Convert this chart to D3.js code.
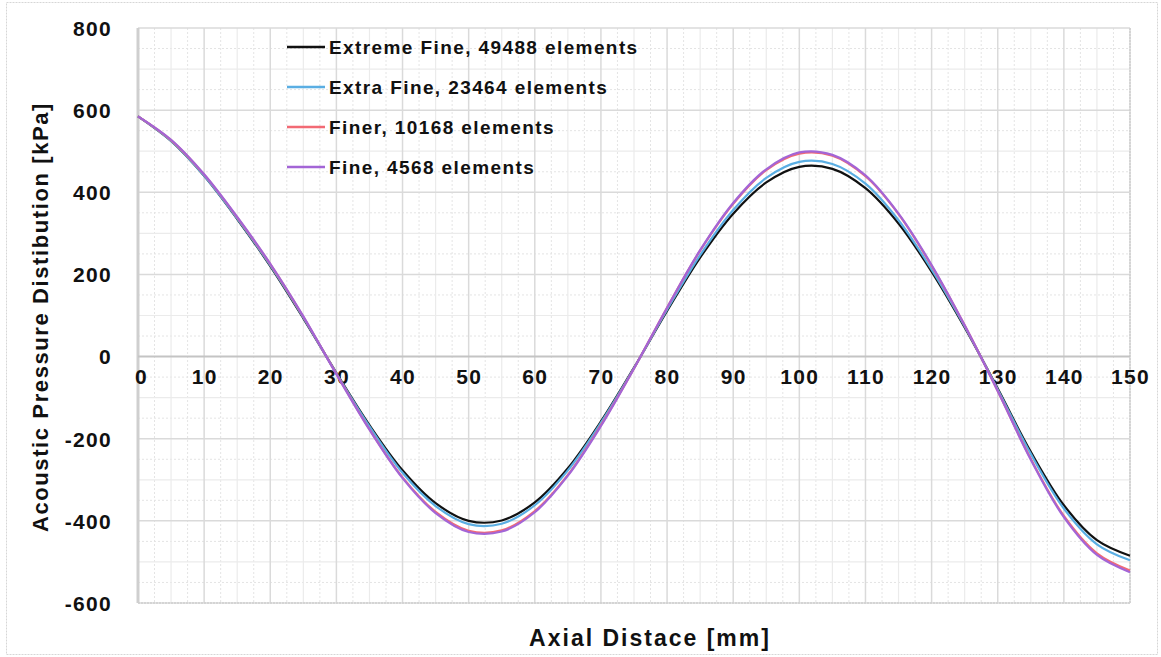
<!DOCTYPE html>
<html>
<head>
<meta charset="utf-8">
<script src="https://cdn.jsdelivr.net/npm/d3@7"></script>
<style>
  html, body { margin: 0; padding: 0; background: #fff; }
  svg { display: block; font-family: "Liberation Sans", Arial, sans-serif; }
</style>
</head>
<body>
<svg id="chart" width="1161" height="657"></svg>
<script>
// Axial distance samples [mm]
const axialMm = [0, 5, 10, 15, 20, 25, 30, 35, 40, 45, 50, 55, 60, 65, 70, 75,
                 80, 85, 90, 95, 100, 105, 110, 115, 120, 125, 130, 135, 140, 145, 150];

// Acoustic pressure [kPa] per mesh refinement
const extremeFine = [585, 525, 440, 335, 220, 93, -40, -167, -277, -357, -400, -399, -355, -272, -158, -27,
                     111, 241, 348, 424, 462, 457, 410, 324, 207, 71, -78, -232, -362, -447, -485];
const extraFine   = [585, 525, 440, 336, 222, 95, -41, -170, -283, -364, -408, -407, -362, -277, -161, -28,
                     114, 247, 357, 435, 474, 469, 421, 332, 212, 73, -80, -237, -370, -457, -496];
const finer       = [585, 527, 443, 339, 225, 97, -42, -177, -294, -378, -424, -423, -376, -288, -167, -29,
                     119, 258, 372, 454, 494, 489, 439, 347, 221, 76, -84, -249, -388, -479, -521];
const fine        = [585, 528, 444, 340, 226, 98, -43, -178, -296, -381, -427, -426, -379, -290, -169, -29,
                     119, 259, 374, 456, 497, 491, 441, 348, 223, 76, -84, -251, -391, -483, -525];

const seriesNames  = ["Extreme Fine, 49488 elements", "Extra Fine, 23464 elements",
                      "Finer, 10168 elements", "Fine, 4568 elements"];
const seriesColors = ["#111111", "#5aaee3", "#f26a74", "#a365d6"];
const seriesValues = [extremeFine, extraFine, finer, fine];

const xTicks = [0, 10, 20, 30, 40, 50, 60, 70, 80, 90, 100, 110, 120, 130, 140, 150];
const yTicks = [-600, -400, -200, 0, 200, 400, 600, 800];

const svg = d3.select("#chart");
const W = 1161, H = 657;
const plot = { left: 138, right: 1130, top: 28, bottom: 603 };
const FONT = "'Liberation Sans', Arial, sans-serif";
const fmt = d => String(d);   // plain hyphen for negatives

const x = d3.scaleLinear().domain([0, 150]).range([plot.left, plot.right]);
const y = d3.scaleLinear().domain([-600, 800]).range([plot.bottom, plot.top]);

// outer chart frame
svg.append("rect")
  .attr("x", 6.5).attr("y", 2.5).attr("width", W - 10).attr("height", H - 5)
  .attr("fill", "none").attr("stroke", "#d6d6d6").attr("stroke-width", 1)
  .attr("stroke-dasharray", "2,1");

const grid = svg.append("g");

// fine dotted grid
grid.selectAll(".xdot").data(d3.range(0, 150.01, 2.5).filter(v => v % 5 !== 0))
  .join("line")
  .attr("x1", d => x(d)).attr("x2", d => x(d))
  .attr("y1", plot.top).attr("y2", plot.bottom)
  .attr("stroke", "#e4e4e4").attr("stroke-width", 1).attr("stroke-dasharray", "2,2");
grid.selectAll(".ydot").data(d3.range(-600, 800.1, 50).filter(v => v % 100 !== 0))
  .join("line")
  .attr("x1", plot.left).attr("x2", plot.right)
  .attr("y1", d => y(d)).attr("y2", d => y(d))
  .attr("stroke", "#e4e4e4").attr("stroke-width", 1).attr("stroke-dasharray", "2,2");

// minor solid grid
grid.selectAll(".xmin").data(d3.range(5, 150, 10))
  .join("line")
  .attr("x1", d => x(d)).attr("x2", d => x(d))
  .attr("y1", plot.top).attr("y2", plot.bottom)
  .attr("stroke", "#ebebeb").attr("stroke-width", 1.2);
grid.selectAll(".ymin").data(d3.range(-500, 800, 200))
  .join("line")
  .attr("x1", plot.left).attr("x2", plot.right)
  .attr("y1", d => y(d)).attr("y2", d => y(d))
  .attr("stroke", "#ebebeb").attr("stroke-width", 1.2);

// major grid
grid.selectAll(".xmaj").data(xTicks.slice(1))
  .join("line")
  .attr("x1", d => x(d)).attr("x2", d => x(d))
  .attr("y1", plot.top).attr("y2", plot.bottom)
  .attr("stroke", "#dadada").attr("stroke-width", 1.5);
grid.selectAll(".ymaj").data(yTicks.filter(v => v !== 0))
  .join("line")
  .attr("x1", plot.left).attr("x2", plot.right)
  .attr("y1", d => y(d)).attr("y2", d => y(d))
  .attr("stroke", "#dadada").attr("stroke-width", 1.5);

// plot border: right and bottom dotted, left solid
grid.append("line")
  .attr("x1", plot.right).attr("x2", plot.right).attr("y1", plot.top).attr("y2", plot.bottom)
  .attr("stroke", "#d0d0d0").attr("stroke-width", 1.5).attr("stroke-dasharray", "2,1");
grid.append("line")
  .attr("x1", plot.left).attr("x2", plot.right).attr("y1", plot.bottom).attr("y2", plot.bottom)
  .attr("stroke", "#d0d0d0").attr("stroke-width", 1.5).attr("stroke-dasharray", "2,1");
grid.append("line")
  .attr("x1", plot.left).attr("x2", plot.left).attr("y1", plot.top).attr("y2", plot.bottom)
  .attr("stroke", "#cfcfcf").attr("stroke-width", 3);

// zero axis line
grid.append("line")
  .attr("x1", plot.left).attr("x2", plot.right).attr("y1", y(0)).attr("y2", y(0))
  .attr("stroke", "#c4c4c4").attr("stroke-width", 2);

// y axis labels
const yAxis = d3.axisLeft(y).tickValues(yTicks).tickSize(0).tickPadding(0).tickFormat(fmt);
const gy = svg.append("g").attr("transform", `translate(${plot.left - 26},0)`).call(yAxis);
gy.select(".domain").remove();
gy.selectAll("text")
  .attr("font-family", FONT)
  .attr("font-size", 21).attr("font-weight", "bold").attr("fill", "#111")
  .attr("letter-spacing", 1.3)
  .attr("dy", "0.35em");

// x axis labels sit just under the zero line
const xAxis = d3.axisBottom(x).tickValues(xTicks).tickSize(0).tickPadding(0).tickFormat(fmt);
const gx = svg.append("g").attr("transform", `translate(0,${y(0) + 20})`).call(xAxis);
gx.select(".domain").remove();
gx.selectAll("text")
  .attr("font-family", FONT)
  .attr("font-size", 21).attr("font-weight", "bold").attr("fill", "#111")
  .attr("letter-spacing", 1.3)
  .attr("dy", "0.35em").attr("dx", d => d === 0 ? 3 : 0);

// series lines
const line = d3.line()
  .x((d, i) => x(axialMm[i]))
  .y(d => y(d))
  .curve(d3.curveCatmullRom.alpha(0.5));

svg.append("g").selectAll("path").data(seriesValues)
  .join("path")
  .attr("d", d => line(d))
  .attr("fill", "none")
  .attr("stroke", (d, i) => seriesColors[i])
  .attr("stroke-width", 2.2)
  .attr("stroke-linejoin", "round");

// legend
const legend = svg.append("g").attr("transform", "translate(287,47)");
const rows = legend.selectAll("g").data(seriesNames).join("g")
  .attr("transform", (d, i) => `translate(0,${i * 40})`);
rows.append("line")
  .attr("x1", 0).attr("x2", 38).attr("y1", 0).attr("y2", 0)
  .attr("stroke", (d, i) => seriesColors[i]).attr("stroke-width", 2.5);
rows.append("text")
  .attr("x", 42).attr("y", 0).attr("dy", "0.35em")
  .attr("font-family", FONT)
  .attr("font-size", 19).attr("font-weight", "bold").attr("fill", "#111")
  .attr("letter-spacing", 1.4)
  .text(d => d);

// axis titles
svg.append("text")
  .attr("x", 650).attr("y", 638)
  .attr("text-anchor", "middle").attr("dy", "0.35em")
  .attr("font-family", FONT)
  .attr("font-size", 23).attr("font-weight", "bold").attr("fill", "#111")
  .attr("letter-spacing", 2)
  .text("Axial Distace [mm]");

svg.append("text")
  .attr("transform", "translate(40,317) rotate(-90)")
  .attr("text-anchor", "middle").attr("dy", "0.35em")
  .attr("font-family", FONT)
  .attr("font-size", 22).attr("font-weight", "bold").attr("fill", "#111")
  .attr("letter-spacing", 1.6)
  .text("Acoustic Pressure Distibution [kPa]");
</script>
</body>
</html>
